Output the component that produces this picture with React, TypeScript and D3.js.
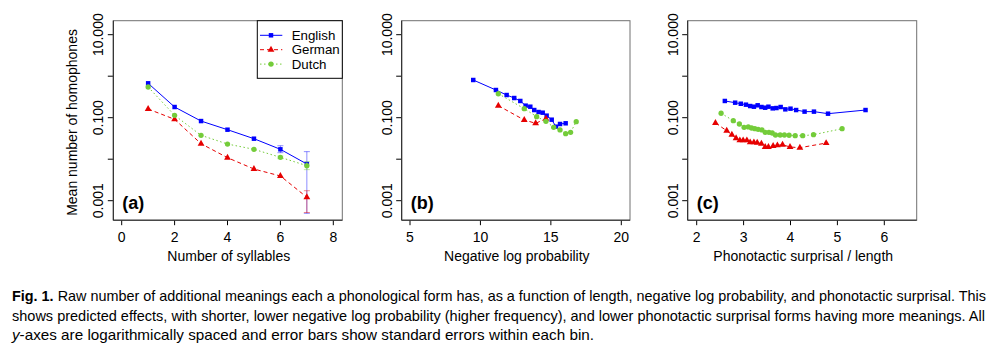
import React from "react";
import * as d3 from "d3";

// ---------- Data ----------
const syllables = [1, 2, 3, 4, 5, 6, 7];
const lenEnglish = [0.674, 0.181, 0.083, 0.0514, 0.0312, 0.0173, 0.00766];
const lenGerman = [0.162, 0.0914, 0.0236, 0.01087, 0.0058, 0.00394, 0.00121];
const lenDutch = [0.549, 0.114, 0.0376, 0.0232, 0.0173, 0.0111, 0.00697];
const lenEnglishLo = [null, null, null, null, null, 0.01435, 0.000497];
const lenEnglishHi = [null, null, null, null, null, 0.0211, 0.0152];
const lenGermanLo = [null, null, null, null, null, null, 0.00052];
const lenGermanHi = [null, null, null, null, null, null, 0.00174];
const lenDutchLo = [null, null, null, null, null, 0.0103, 0.0056];
const lenDutchHi = [null, null, null, null, null, 0.0119, 0.0087];

const nlpEnglishX = [9.49, 11.1, 11.86, 12.4, 12.83, 13.21, 13.54, 13.82, 14.13, 14.42, 14.7, 15.06, 15.36, 15.65, 16.05];
const nlpEnglishY = [0.81, 0.465, 0.352, 0.298, 0.253, 0.195, 0.184, 0.153, 0.137, 0.132, 0.112, 0.0895, 0.0607, 0.0705, 0.0733];
const nlpGermanX = [11.27, 13.11, 13.92, 14.65];
const nlpGermanY = [0.195, 0.088, 0.0733, 0.0946];
const nlpDutchX = [11.27, 13.11, 13.99, 14.65, 15.2, 15.65, 16.05, 16.4, 16.8];
const nlpDutchY = [0.378, 0.165, 0.106, 0.0818, 0.0587, 0.0506, 0.0411, 0.0445, 0.08];

const surEnglishX = [2.6, 2.82, 2.94, 3.05, 3.14, 3.22, 3.3, 3.38, 3.46, 3.53, 3.62, 3.7, 3.79, 3.89, 4.0, 4.12, 4.3, 4.5, 4.8, 5.6];
const surEnglishY = [0.253, 0.23, 0.217, 0.206, 0.191, 0.184, 0.199, 0.181, 0.174, 0.184, 0.168, 0.171, 0.181, 0.159, 0.165, 0.153, 0.14, 0.14, 0.125, 0.153];
const surGermanX = [2.4, 2.64, 2.75, 2.84, 2.92, 2.99, 3.07, 3.14, 3.22, 3.29, 3.38, 3.46, 3.53, 3.63, 3.72, 3.83, 3.99, 4.2, 4.76];
const surGermanY = [0.0745, 0.0486, 0.0389, 0.0319, 0.0285, 0.0285, 0.0285, 0.0255, 0.0255, 0.025, 0.0236, 0.0197, 0.0197, 0.0208, 0.0216, 0.0223, 0.0197, 0.0189, 0.0245];
const surDutchX = [2.52, 2.78, 2.91, 3.01, 3.1, 3.17, 3.24, 3.31, 3.39, 3.46, 3.54, 3.61, 3.68, 3.78, 3.87, 3.97, 4.1, 4.26, 4.49, 5.1];
const surDutchY = [0.128, 0.0847, 0.0705, 0.0587, 0.06, 0.0565, 0.0543, 0.0525, 0.0506, 0.0445, 0.0445, 0.0428, 0.0383, 0.0383, 0.0383, 0.0378, 0.0368, 0.0368, 0.0389, 0.0543];

const yTickValues = [10, 1, 0.1, 0.01, 0.001];
const yTickLabels = ["10.000", "", "0.100", "", "0.001"];
const xTicksA = [0, 2, 4, 6, 8];
const xTicksB = [5, 10, 15, 20];
const xTicksC = [2, 3, 4, 5, 6];
const languages = ["English", "German", "Dutch"];

const BLUE = "#0000ff";
const RED = "#e60000";
const GREEN = "#74cc3a";
const FONT = "'Liberation Sans', Arial, Helvetica, sans-serif";

const styles = {
  English: { color: BLUE, dash: "none", symbol: d3.symbolSquare, size: 20 },
  German: { color: RED, dash: "4,3", symbol: d3.symbolTriangle, size: 20 },
  Dutch: { color: GREEN, dash: "1.5,2.5", symbol: d3.symbolCircle, size: 22 },
};

const yScale = d3.scaleLog().domain([0.001, 10]).range([200.7, 34.7]);
const TOP = 20.7;
const BOTTOM = 220.2;

type Series = { name: string; xs: number[]; ys: number[]; lo?: (number | null)[]; hi?: (number | null)[] };

function Panel(props: {
  x0: number; x1: number; xDomain: [number, number]; xRange: [number, number];
  ticks: number[]; title: string; label: string; series: Series[]; yTitle?: boolean;
}) {
  const { x0, x1, ticks, title, label, series } = props;
  const xs = d3.scaleLinear().domain(props.xDomain).range(props.xRange);
  const line = d3.line<[number, number]>().x((d) => xs(d[0])).y((d) => yScale(d[1]));
  return (
    <g>
      {yTickValues.map((v, i) => (
        <g key={"yt" + i}>
          <line x1={x0 - 5.5} x2={x0} y1={yScale(v)} y2={yScale(v)} stroke="#000" />
          {yTickLabels[i] && (
            <text transform={`translate(${x0 - 10},${yScale(v)}) rotate(-90)`} textAnchor="middle"
              fontSize={14} fontFamily={FONT} fill="#000">{yTickLabels[i]}</text>
          )}
        </g>
      ))}
      {ticks.map((t) => (
        <g key={"xt" + t}>
          <line x1={xs(t)} x2={xs(t)} y1={BOTTOM} y2={BOTTOM + 5} stroke="#000" />
          <text x={xs(t)} y={242} textAnchor="middle" fontSize={14} fontFamily={FONT} fill="#000">{t}</text>
        </g>
      ))}
      <text x={(x0 + x1) / 2 + 1} y={261} textAnchor="middle" fontSize={14} fontFamily={FONT} fill="#000">{title}</text>
      {props.yTitle && (
        <text transform={`translate(77,${(TOP + BOTTOM) / 2 + 2}) rotate(-90)`} textAnchor="middle"
          fontSize={14} fontFamily={FONT} fill="#000">Mean number of homophones</text>
      )}
      {series.map((s) => {
        const st = (styles as any)[s.name];
        const pts: [number, number][] = s.xs.map((x, i) => [x, s.ys[i]]);
        const sym = d3.symbol().type(st.symbol).size(st.size)();
        return (
          <g key={s.name}>
            <path d={line(pts) || ""} fill="none" stroke={st.color} strokeWidth={1} strokeDasharray={st.dash} />
            {s.lo && s.hi && s.xs.map((x, i) => {
              const lo = s.lo![i], hi = s.hi![i];
              if (lo == null || hi == null) return null;
              const cx = xs(x);
              return (
                <g key={"e" + i} stroke={st.color} strokeOpacity={0.45} strokeWidth={1}>
                  <line x1={cx} x2={cx} y1={yScale(lo)} y2={yScale(hi)} />
                  <line x1={cx - 3} x2={cx + 3} y1={yScale(lo)} y2={yScale(lo)} />
                  <line x1={cx - 3} x2={cx + 3} y1={yScale(hi)} y2={yScale(hi)} />
                </g>
              );
            })}
            {pts.map((p, i) => (
              <path key={i} d={sym || ""} transform={`translate(${xs(p[0])},${yScale(p[1])})`} fill={st.color} />
            ))}
          </g>
        );
      })}
      <rect x={x0} y={TOP} width={x1 - x0} height={BOTTOM - TOP} fill="none" stroke="#707070" strokeWidth={1} />
      <line x1={x0} x2={x0} y1={TOP} y2={BOTTOM} stroke="#222" />
      <line x1={x0} x2={x1} y1={BOTTOM} y2={BOTTOM} stroke="#222" />
      <text x={x0 + 9} y={209} fontSize={18} fontWeight="bold" fontFamily={FONT} fill="#000">{label}</text>
    </g>
  );
}

export default function App() {
  const lenSeries: Series[] = [
    { name: "English", xs: syllables, ys: lenEnglish, lo: lenEnglishLo, hi: lenEnglishHi },
    { name: "German", xs: syllables, ys: lenGerman, lo: lenGermanLo, hi: lenGermanHi },
    { name: "Dutch", xs: syllables, ys: lenDutch, lo: lenDutchLo, hi: lenDutchHi },
  ];
  const nlpSeries: Series[] = [
    { name: "English", xs: nlpEnglishX, ys: nlpEnglishY },
    { name: "German", xs: nlpGermanX, ys: nlpGermanY },
    { name: "Dutch", xs: nlpDutchX, ys: nlpDutchY },
  ];
  const surSeries: Series[] = [
    { name: "English", xs: surEnglishX, ys: surEnglishY },
    { name: "German", xs: surGermanX, ys: surGermanY },
    { name: "Dutch", xs: surDutchX, ys: surDutchY },
  ];
  const legendX0 = 257.3, legendX1 = 342.3, legendY1 = 78.3;
  const capFont = "'Liberation Sans Narrow', 'Liberation Sans', Arial, sans-serif";
  return (
    <svg width={1000} height={349} style={{ position: "absolute", left: 0, top: 0, background: "#fff" }}>
      <rect x={0} y={0} width={1000} height={349} fill="#fff" />
      <Panel x0={113.3} x1={342.3} xDomain={[0, 8]} xRange={[121.7, 333.3]} ticks={xTicksA}
        title="Number of syllables" label="(a)" series={lenSeries} yTitle />
      <Panel x0={401.7} x1={630} xDomain={[5, 20]} xRange={[410, 621.3]} ticks={xTicksB}
        title="Negative log probability" label="(b)" series={nlpSeries} />
      <Panel x0={687.7} x1={916.7} xDomain={[2, 6]} xRange={[696.7, 884.3]} ticks={xTicksC}
        title="Phonotactic surprisal / length" label="(c)" series={surSeries} />
      <g>
        <rect x={legendX0} y={TOP} width={legendX1 - legendX0} height={legendY1 - TOP} fill="#fff" stroke="#000" />
        {languages.map((name, i) => {
          const st = (styles as any)[name];
          const y = 35.3 + i * 14.4;
          const sym = d3.symbol().type(st.symbol).size(st.size)();
          return (
            <g key={name}>
              <line x1={260} x2={282.3} y1={y} y2={y} stroke={st.color} strokeDasharray={st.dash} />
              <path d={sym || ""} transform={`translate(271,${y})`} fill={st.color} />
              <text x={291.7} y={y + 4.7} fontSize={13.3} fontFamily={FONT} fill="#000">{name}</text>
            </g>
          );
        })}
      </g>
      <g fontFamily={capFont} fontSize={14.5} fill="#000">
        <text x={12} y={301} textLength={974} lengthAdjust="spacingAndGlyphs">
          <tspan fontWeight="bold">Fig. 1.</tspan>
          <tspan>{"  Raw number of additional meanings each a phonological form has, as a function of length, negative log probability, and phonotactic surprisal. This"}</tspan>
        </text>
        <text x={12} y={321} textLength={973} lengthAdjust="spacingAndGlyphs">
          shows predicted effects, with shorter, lower negative log probability (higher frequency), and lower phonotactic surprisal forms having more meanings. All
        </text>
        <text x={12} y={340} textLength={582} lengthAdjust="spacingAndGlyphs">
          <tspan fontStyle="italic">y</tspan>
          <tspan>-axes are logarithmically spaced and error bars show standard errors within each bin.</tspan>
        </text>
      </g>
    </svg>
  );
}
